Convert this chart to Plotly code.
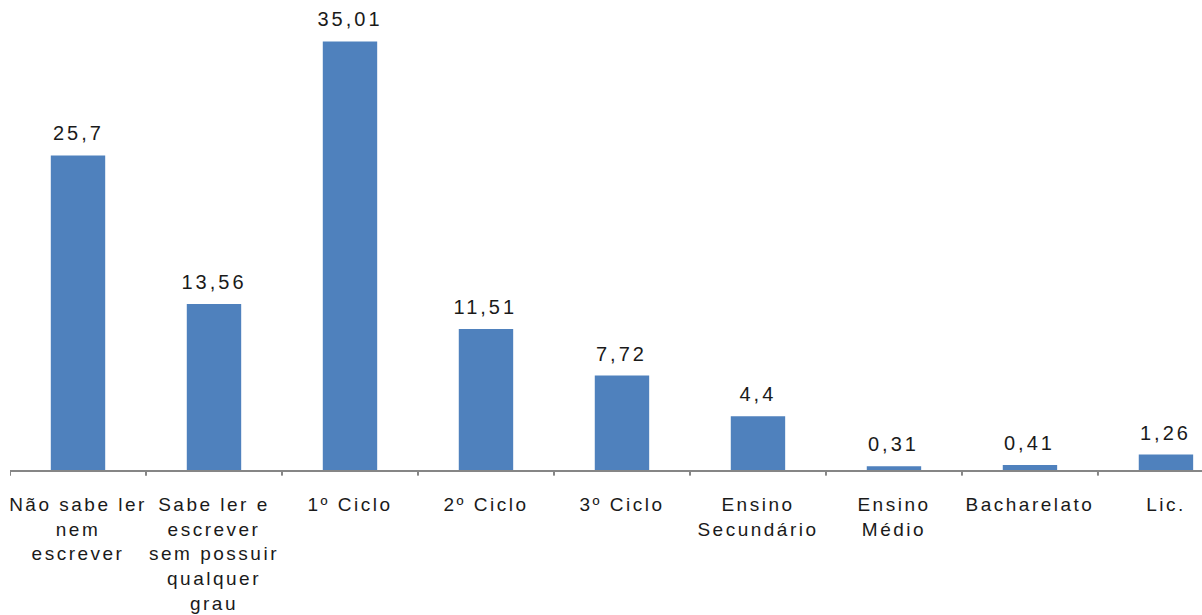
import plotly.graph_objects as go

categories = ["Não sabe ler<br>nem<br>escrever",
              "Sabe ler e<br>escrever<br>sem possuir<br>qualquer<br>grau",
              "1º Ciclo", "2º Ciclo", "3º Ciclo",
              "Ensino<br>Secundário", "Ensino<br>Médio", "Bacharelato", "Lic."]
values = [25.7, 13.56, 35.01, 11.51, 7.72, 4.4, 0.31, 0.41, 1.26]
labels = [str(v).replace(".", ",") for v in values]

FONT = "Liberation Sans, Arial, sans-serif"

fig = go.Figure(go.Bar(
    x=list(range(len(values))), y=values,
    marker=dict(color="#4F81BD", line=dict(width=0)),
    width=0.4,
))

for i, (v, t) in enumerate(zip(values, labels)):
    fig.add_annotation(x=i, y=v, text=t, showarrow=False, yanchor="bottom",
                       yshift=9, font=dict(family=FONT, size=20, color="#1a1a1a"))

fig.update_layout(
    width=1202, height=615,
    margin=dict(l=10, r=0, t=0, b=145),
    plot_bgcolor="white", paper_bgcolor="white",
    showlegend=False,
    xaxis=dict(
        tickmode="array",
        tickvals=list(range(len(values))),
        ticktext=categories,
        range=[-0.5, 8.265],
        showline=True, linecolor="#868686", linewidth=2,
        ticks="", showgrid=False, zeroline=False,
        tickfont=dict(family=FONT, size=19, color="#1a1a1a"),
        ticklabelstandoff=16,
    ),
    yaxis=dict(range=[0, 38.4], visible=False, showgrid=False, zeroline=False),
)

# boundary tick marks
for b in [i - 0.5 for i in range(len(values) + 1)]:
    fig.add_shape(type="line", xref="x", yref="paper", x0=b, x1=b, y0=0, y1=-0.012,
                  line=dict(color="#868686", width=2))

post = """
function spaceText(){
  document.querySelectorAll('.xtick text').forEach(function(e){ e.style.letterSpacing='2.5px'; });
  document.querySelectorAll('.annotation-text').forEach(function(e){ e.style.letterSpacing='3px'; });
}
spaceText();
setTimeout(spaceText, 0);
"""

fig.write_html("out.html", post_script=post)
